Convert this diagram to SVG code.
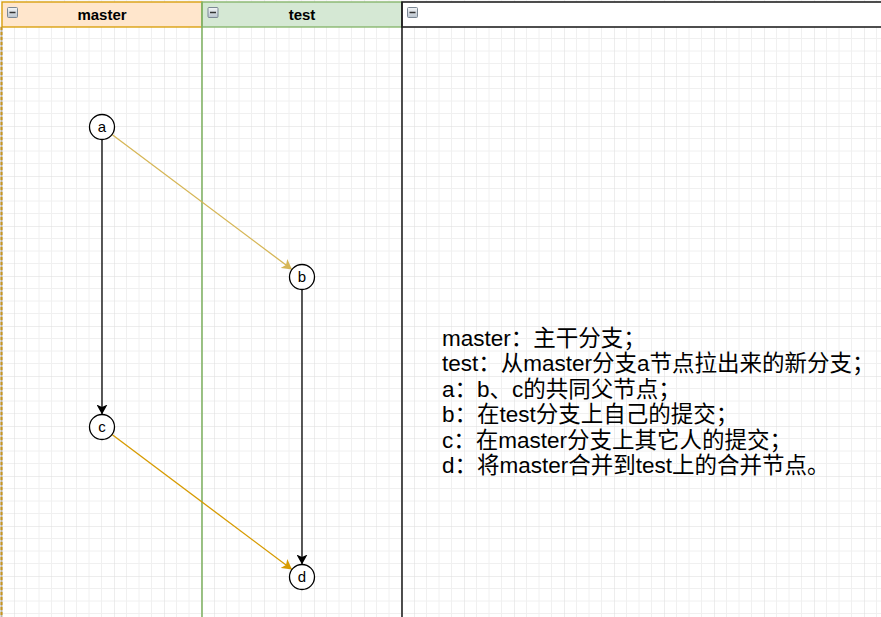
<svg xmlns="http://www.w3.org/2000/svg" width="881" height="617" viewBox="0 0 881 617">
  <style>
    .hdr { font-family: "Liberation Sans", Arial, sans-serif; font-size: 15px; font-weight: bold; fill: #000; text-anchor: middle; }
    .node circle { fill: #fff; stroke: #000; stroke-width: 1.3; }
    .node text { font-family: "Liberation Sans", Arial, sans-serif; font-size: 15px; fill: #000; text-anchor: middle; }
    .edge { fill: none; stroke-width: 1.3; }
    .note { font-family: "Liberation Sans", Arial, "Noto Sans CJK SC", sans-serif; font-size: 22.5px; fill: #000; }
    .icon rect { fill: url(#iconGrad); stroke: #7b8794; stroke-width: 1; }
    .icon line { stroke: #333; stroke-width: 1.5; }
  </style>
  <defs>
    <pattern id="grid" patternUnits="userSpaceOnUse" x="14" y="26" width="50" height="50">
      <path d="M12.5,0V50M25,0V50M37.5,0V50M0,12.5H50M0,25H50M0,37.5H50" stroke="#f0f0f0" stroke-width="1" fill="none"/>
      <path d="M0,0V50M0,0H50" stroke="#dcdcdc" stroke-width="1" fill="none"/>
    </pattern>
    <linearGradient id="iconGrad" x1="0" y1="0" x2="0" y2="1">
      <stop offset="0" stop-color="#f4f6f8"/>
      <stop offset="1" stop-color="#b8c2cc"/>
    </linearGradient>
    <marker id="arrBlack" markerUnits="userSpaceOnUse" viewBox="0 -5.5 10 11" refX="10" refY="0" markerWidth="10" markerHeight="11" orient="auto">
      <path d="M0,-5.5 L10,0 L0,5.5 L2.5,0 Z" fill="#000"/>
    </marker>
    <marker id="arrYellow" markerUnits="userSpaceOnUse" viewBox="0 -5.5 10 11" refX="10" refY="0" markerWidth="10" markerHeight="11" orient="auto">
      <path d="M0,-5.5 L10,0 L0,5.5 L2.5,0 Z" fill="#d6b656"/>
    </marker>
    <marker id="arrOrange" markerUnits="userSpaceOnUse" viewBox="0 -5.5 10 11" refX="10" refY="0" markerWidth="10" markerHeight="11" orient="auto">
      <path d="M0,-5.5 L10,0 L0,5.5 L2.5,0 Z" fill="#d79b00"/>
    </marker>
  </defs>

  <rect x="0" y="0" width="881" height="617" fill="#fff"/>
  <rect x="0" y="0" width="881" height="617" fill="url(#grid)"/>

  <g id="lane-master">
    <rect x="2" y="2" width="200" height="25" fill="#ffe6cc" stroke="#d79b00" stroke-width="1.3"/>
    <line x1="1.5" y1="27" x2="1.5" y2="617" stroke="#bdb6a8" stroke-width="2"/>
    <line x1="1.5" y1="27" x2="1.5" y2="617" stroke="#c8961e" stroke-width="2" stroke-dasharray="3 2"/>
    <g class="icon"><rect x="7.5" y="7.5" width="10" height="10" rx="1"/><line x1="9.5" y1="12.5" x2="15.5" y2="12.5"/></g>
    <text class="hdr" x="102" y="20">master</text>
  </g>

  <g id="lane-test">
    <rect x="202" y="2" width="200" height="25" fill="#d5e8d4" stroke="#82b366" stroke-width="1.3"/>
    <line x1="202" y1="2" x2="202" y2="617" stroke="#82b366" stroke-width="1.6"/>
    <g class="icon"><rect x="208" y="7.5" width="10" height="10" rx="1"/><line x1="210" y1="12.5" x2="216" y2="12.5"/></g>
    <text class="hdr" x="302" y="20">test</text>
  </g>

  <g id="lane-notes">
    <rect x="402" y="2" width="490" height="25" fill="#fff" stroke="#222" stroke-width="1.6"/>
    <line x1="402" y1="2" x2="402" y2="617" stroke="#222" stroke-width="1.6"/>
    <g class="icon"><rect x="407.5" y="7.5" width="10" height="10" rx="1"/><line x1="409.5" y1="12.5" x2="415.5" y2="12.5"/></g>
  </g>

  <g id="connectors">
    <line class="edge" x1="102" y1="139.5" x2="102" y2="414.5" stroke="#000" marker-end="url(#arrBlack)"/>
    <line class="edge" x1="112" y1="134.5" x2="292" y2="269.5" stroke="#d6b656" marker-end="url(#arrYellow)"/>
    <line class="edge" x1="302" y1="289.5" x2="302" y2="564.5" stroke="#000" marker-end="url(#arrBlack)"/>
    <line class="edge" x1="112" y1="434.5" x2="292" y2="569.5" stroke="#d79b00" marker-end="url(#arrOrange)"/>
  </g>

  <g id="node-a" class="node"><circle cx="102" cy="127" r="12.5"/><text x="102" y="132">a</text></g>
  <g id="node-b" class="node"><circle cx="302" cy="277" r="12.5"/><text x="302" y="282">b</text></g>
  <g id="node-c" class="node"><circle cx="102" cy="427" r="12.5"/><text x="102" y="432">c</text></g>
  <g id="node-d" class="node"><circle cx="302" cy="577" r="12.5"/><text x="302" y="582">d</text></g>

  <g id="notes">
    <text class="note" x="442" y="345.5">master：主干分支；</text>
    <text class="note" x="442" y="371">test：从master分支a节点拉出来的新分支；</text>
    <text class="note" x="442" y="396.5">a：b、c的共同父节点；</text>
    <text class="note" x="442" y="422">b：在test分支上自己的提交；</text>
    <text class="note" x="442" y="447.5">c：在master分支上其它人的提交；</text>
    <text class="note" x="442" y="473">d：将master合并到test上的合并节点。</text>
  </g>
</svg>
